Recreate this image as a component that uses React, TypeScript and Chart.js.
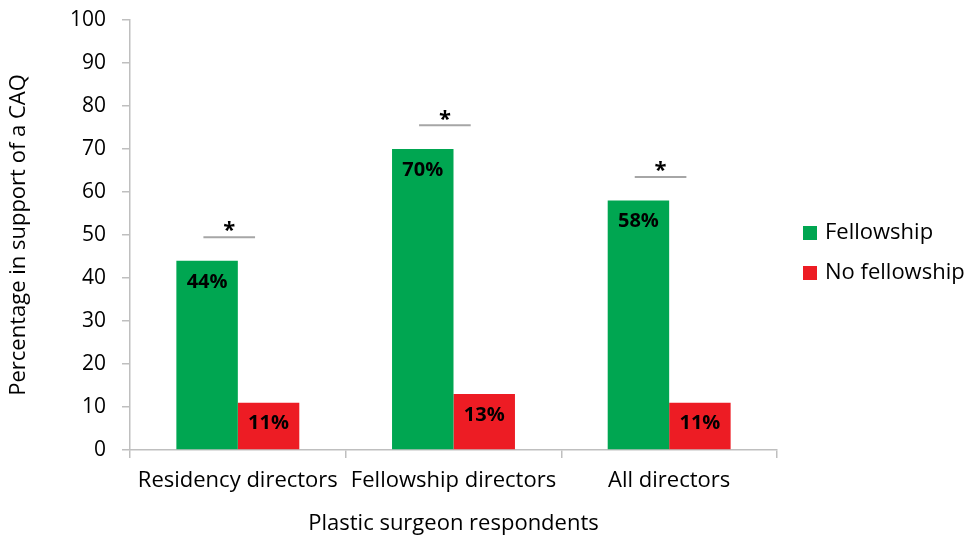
import React, { useEffect, useRef } from "react";
import { Chart, registerables } from "chart.js";

Chart.register(...registerables);

const categories = ["Residency directors", "Fellowship directors", "All directors"];
const seriesLabels = ["Fellowship", "No fellowship"];
const fellowship = [44, 70, 58];
const noFellowship = [11, 13, 11];
const significanceLevels = [49.5, 75.5, 63.5];
const yTitle = "Percentage in support of a CAQ";
const xTitle = "Plastic surgeon respondents";

const GREEN = "#00A651";
const RED = "#ED1C24";
const AXIS = "#BFBFBF";
const FONT = "'Open Sans', sans-serif";

const overlayPlugin = {
  id: "overlay",
  afterDatasetsDraw(chart: any) {
    const ctx = chart.ctx;
    const yScale = chart.scales.y;
    const m0 = chart.getDatasetMeta(0);
    const m1 = chart.getDatasetMeta(1);
    ctx.save();
    // data labels
    chart.data.datasets.forEach((ds: any, di: number) => {
      const meta = chart.getDatasetMeta(di);
      meta.data.forEach((bar: any, i: number) => {
        ctx.font = `bold 20px ${FONT}`;
        ctx.fillStyle = "#000";
        ctx.textAlign = "center";
        ctx.textBaseline = "middle";
        ctx.fillText(`${ds.data[i]}%`, bar.x, bar.y + 21);
      });
    });
    // significance markers
    significanceLevels.forEach((lvl, i) => {
      const g = m0.data[i];
      const r = m1.data[i];
      const bw = r.x - g.x;
      const cx = g.x + bw * 0.36;
      const half = bw * 0.42;
      const y = yScale.getPixelForValue(lvl);
      ctx.strokeStyle = "#A6A6A6";
      ctx.lineWidth = 2;
      ctx.beginPath();
      ctx.moveTo(cx - half, y);
      ctx.lineTo(cx + half, y);
      ctx.stroke();
      ctx.font = `bold 22px ${FONT}`;
      ctx.fillStyle = "#000";
      ctx.textAlign = "center";
      ctx.textBaseline = "middle";
      ctx.fillText("*", cx, y - 6);
    });
    // legend
    const lx = chart.chartArea.right + 26;
    const ly = [233, 273];
    chart.data.datasets.forEach((ds: any, di: number) => {
      ctx.fillStyle = ds.backgroundColor;
      ctx.fillRect(lx, ly[di] - 7, 14, 14);
      ctx.font = `22px ${FONT}`;
      ctx.fillStyle = "#000";
      ctx.textAlign = "left";
      ctx.textBaseline = "middle";
      ctx.fillText(ds.label, lx + 22, ly[di]);
    });
    ctx.restore();
  },
};

export default function App() {
  const ref = useRef<HTMLCanvasElement | null>(null);
  useEffect(() => {
    if (!ref.current) return;
    const chart = new Chart(ref.current, {
      type: "bar",
      data: {
        labels: categories,
        datasets: [
          { label: seriesLabels[0], data: fellowship, backgroundColor: GREEN, categoryPercentage: 0.57, barPercentage: 1 },
          { label: seriesLabels[1], data: noFellowship, backgroundColor: RED, categoryPercentage: 0.57, barPercentage: 1 },
        ],
      },
      options: {
        responsive: false,
        animation: false,
        layout: { padding: { top: 20, right: 196, left: 0, bottom: 0 } },
        plugins: { legend: { display: false }, tooltip: { enabled: false } },
        scales: {
          x: {
            afterFit: (s: any) => { s.height = 90; },
            grid: { offset: true, drawOnChartArea: false, drawTicks: true, tickLength: 8, color: AXIS, lineWidth: 1.5 },
            border: { color: AXIS, width: 1.5 },
            ticks: { color: "#000", font: { family: FONT, size: 22 }, padding: 10, maxRotation: 0, autoSkip: false },
            title: { display: true, text: xTitle, color: "#000", font: { family: FONT, size: 22 }, padding: { top: 0, bottom: 3 } },
          },
          y: {
            min: 0,
            max: 100,
            afterFit: (s: any) => { s.width = 130; s.paddingTop = 0; s.paddingBottom = 0; },
            grid: { drawOnChartArea: false, drawTicks: true, tickLength: 8, color: AXIS, lineWidth: 1.5 },
            border: { color: AXIS, width: 1.5 },
            ticks: { stepSize: 10, color: "#000", font: { family: FONT, size: 21 }, padding: 16 },
            title: { display: true, text: yTitle, color: "#000", font: { family: FONT, size: 22 }, padding: { top: 6, bottom: 0 } },
          },
        },
      },
      plugins: [overlayPlugin],
    });
    return () => chart.destroy();
  }, []);
  return (
    <div style={{ position: "absolute", left: 0, top: 0, width: 973, height: 540, background: "#fff" }}>
      <canvas ref={ref} width={973} height={540} />
    </div>
  );
}
